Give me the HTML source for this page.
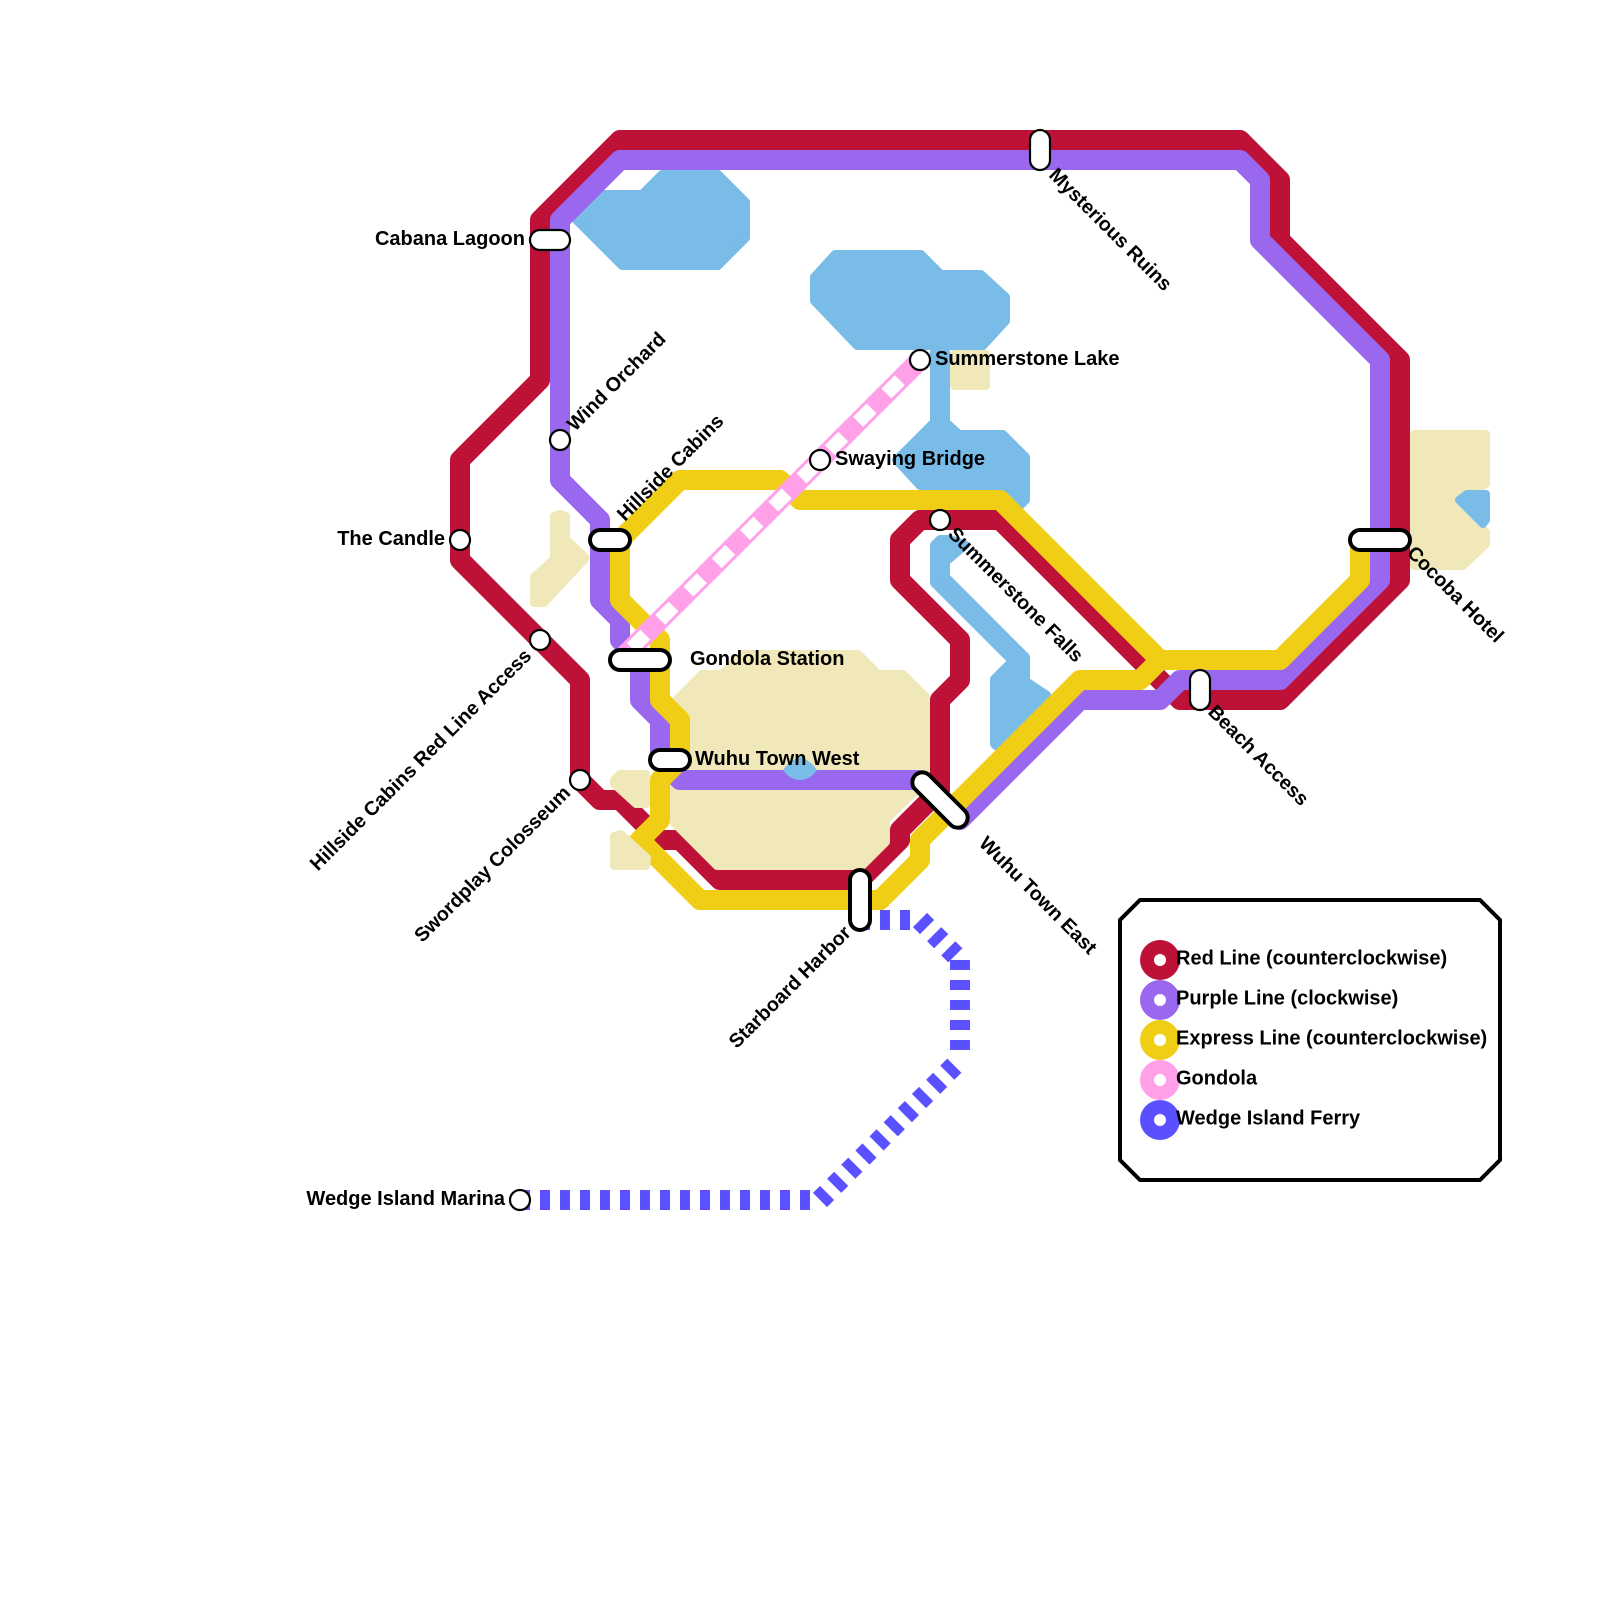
<!DOCTYPE html>
<html>
<head>
<meta charset="utf-8">
<style>
html,body{margin:0;padding:0;background:#fff;}
svg{display:block;}
text{font-family:"Liberation Sans",sans-serif;font-weight:bold;font-size:20px;fill:#000;}
text.r{font-size:19.7px;}
.l{fill:none;stroke-width:20;stroke-linejoin:round;stroke-linecap:round;}
.w{fill:#79bce8;stroke:#79bce8;stroke-width:8;stroke-linejoin:round;}
.t{fill:#f0e8b8;stroke:#f0e8b8;stroke-width:8;stroke-linejoin:round;}
.f{fill:none;stroke:#5a50ff;stroke-width:20;stroke-dasharray:10 10;}
.c{fill:#fff;stroke:#000;stroke-width:2.2;}
.p{fill:#fff;stroke:#000;stroke-width:2.2;}
.q{fill:#fff;stroke:#000;stroke-width:4;}
</style>
</head>
<body>
<svg width="1600" height="1600" viewBox="0 0 1600 1600" xmlns="http://www.w3.org/2000/svg">
<rect width="1600" height="1600" fill="#fff"/>
<!-- land below lines -->
<polygon class="t" points="554,516 560,514 566,516 566,539 586,558 544,603 534,603 534,577 554,559"/>
<polygon class="t" points="954,354 986,354 986,386 954,386"/>
<polygon class="t" points="1414,434 1486,434 1486,484 1455,500 1486,532 1486,544 1463,566 1414,566"/>
<!-- water -->
<polygon class="w" points="576,220 602,194 642,194 662,174 718,174 746,202 746,238 718,266 622,266"/>
<polygon class="w" points="835,254 921,254 941,274 981,274 1006,297 1006,321 983,346 857,346 814,301 814,277"/>
<polygon class="w" points="934,352 946,352 946,422 959,434 1003,434 1026,457 1026,500 1020,506 1000,490 920,486 896,460 934,422"/>
<polygon class="w" points="934,545 940,539 950,539 966,545 946,562 946,577 1026,657 1026,681 1047,695 1002,746 996,746 994,744 994,679 1012,661 934,583"/>
<polygon class="w" points="1459,500 1467,494 1486,494 1486,520 1483,524"/>
<!-- red -->
<polyline class="l" stroke="#bd1138" points="1180,700 1000,520 920,520 900,540 900,580 960,640 960,680 940,700 940,790 900,830 900,840 860,880 720,880 680,840 660,840 620,800 600,800 580,780 580,680 460,560 460,460 540,380 540,220 620,140 1240,140 1280,180 1280,240 1400,360 1400,580 1280,700 1180,700"/>
<!-- land above red -->
<polygon class="t" points="674,702 702,674 722,674 742,654 858,654 878,674 903,674 926,697 926,783 906,800 886,820 886,842 862,866 717,866 674,823"/>
<polygon class="t" points="614,780 620,774 646,774 646,804 636,804 614,784"/>
<!-- purple -->
<polyline class="l" stroke="#9a68ee" points="920,780 680,780 660,760 660,720 640,700 640,660 620,640 620,620 600,600 600,520 560,480 560,220 620,160 1240,160 1260,180 1260,240 1380,360 1380,580 1280,680 1180,680 1160,700 1080,700 960,820"/>
<!-- small lake on purple -->
<path d="M783,770 Q790,760 800,757 Q810,760 817,770 Q810,780 800,780 Q790,780 783,770 Z" fill="#79bce8"/>
<!-- yellow -->
<polyline class="l" stroke="#f0ce15" points="1360,540 1360,580 1280,660 1160,660 1000,500 800,500 780,480 680,480 620,540 620,600 660,640 660,700 680,720 680,760 660,780 660,820 640,840 700,900 880,900 920,860 920,840 1080,680 1140,680 1160,660"/>
<polygon points="626,840 640,826 654,840 640,854" fill="#f0ce15"/>
<!-- small land above yellow tip -->
<polygon class="t" points="614,836 621,834 647,858 646,866 614,866"/>
<!-- gondola -->
<line x1="920" y1="360" x2="620" y2="660" stroke="#ffa0e8" stroke-width="20"/>
<line x1="920" y1="360" x2="620" y2="660" stroke="#fff" stroke-width="14" stroke-dasharray="19 21" stroke-dashoffset="11.5"/>
<!-- ferry -->
<line class="f" x1="860" y1="920" x2="920" y2="920"/>
<line class="f" x1="920" y1="920" x2="960" y2="960"/>
<line class="f" x1="960" y1="960" x2="960" y2="1060"/>
<line class="f" x1="820" y1="1200" x2="960" y2="1060"/>
<line class="f" x1="520" y1="1200" x2="820" y2="1200"/>
<!-- stations -->
<rect class="p" x="1030" y="130" width="20" height="40" rx="10"/>
<rect class="p" x="530" y="230" width="40" height="20" rx="10"/>
<rect class="p" x="1190" y="670" width="20" height="40" rx="10"/>
<rect class="q" x="590" y="530" width="40" height="20" rx="10"/>
<rect class="q" x="610" y="650" width="60" height="20" rx="10"/>
<rect class="q" x="650" y="750" width="40" height="20" rx="10"/>
<rect class="q" x="1350" y="530" width="60" height="20" rx="10"/>
<rect class="q" x="850" y="870" width="20" height="60" rx="10"/>
<rect class="q" x="905" y="790" width="70" height="20" rx="10" transform="rotate(45 940 800)"/>
<circle class="c" cx="560" cy="440" r="10"/>
<circle class="c" cx="460" cy="540" r="10"/>
<circle class="c" cx="540" cy="640" r="10"/>
<circle class="c" cx="580" cy="780" r="10"/>
<circle class="c" cx="520" cy="1200" r="10"/>
<circle class="c" cx="820" cy="460" r="10"/>
<circle class="c" cx="920" cy="360" r="10"/>
<circle class="c" cx="940" cy="520" r="10"/>
<!-- labels -->
<text x="525" y="245" text-anchor="end">Cabana Lagoon</text>
<text x="445" y="545" text-anchor="end">The Candle</text>
<text x="505" y="1205" text-anchor="end">Wedge Island Marina</text>
<text x="690" y="665">Gondola Station</text>
<text x="695" y="765">Wuhu Town West</text>
<text x="835" y="465">Swaying Bridge</text>
<text x="935" y="365">Summerstone Lake</text>
<text class="r" transform="translate(575,432) rotate(-45)">Wind Orchard</text>
<text class="r" transform="translate(625,522) rotate(-45)">Hillside Cabins</text>
<text class="r" transform="translate(532.5,657) rotate(-45)" text-anchor="end">Hillside Cabins Red Line Access</text>
<text class="r" transform="translate(571.5,794) rotate(-45)" text-anchor="end">Swordplay Colosseum</text>
<text class="r" transform="translate(852,934) rotate(-45)" text-anchor="end">Starboard Harbor</text>
<text class="r" transform="translate(1048,176) rotate(45)">Mysterious Ruins</text>
<text class="r" transform="translate(947,535) rotate(45)">Summerstone Falls</text>
<text class="r" transform="translate(1207,713) rotate(45)">Beach Access</text>
<text class="r" transform="translate(1406,554) rotate(45)">Cocoba Hotel</text>
<text class="r" transform="translate(978,844.5) rotate(45)">Wuhu Town East</text>
<!-- legend -->
<polygon points="1140,900 1480,900 1500,920 1500,1160 1480,1180 1140,1180 1120,1160 1120,920" fill="#fff" stroke="#000" stroke-width="4"/>
<circle cx="1160" cy="960" r="20" fill="#bd1138"/><circle cx="1160" cy="960" r="6" fill="#fff"/>
<circle cx="1160" cy="1000" r="20" fill="#9a68ee"/><circle cx="1160" cy="1000" r="6" fill="#fff"/>
<circle cx="1160" cy="1040" r="20" fill="#f0ce15"/><circle cx="1160" cy="1040" r="6" fill="#fff"/>
<circle cx="1160" cy="1080" r="20" fill="#ffa0e8"/><circle cx="1160" cy="1080" r="6" fill="#fff"/>
<circle cx="1160" cy="1120" r="20" fill="#5a50ff"/><circle cx="1160" cy="1120" r="6" fill="#fff"/>
<text x="1176" y="964.5">Red Line (counterclockwise)</text>
<text x="1176" y="1004.5">Purple Line (clockwise)</text>
<text x="1176" y="1044.5">Express Line (counterclockwise)</text>
<text x="1176" y="1084.5">Gondola</text>
<text x="1176" y="1124.5">Wedge Island Ferry</text>
</svg>
</body>
</html>
